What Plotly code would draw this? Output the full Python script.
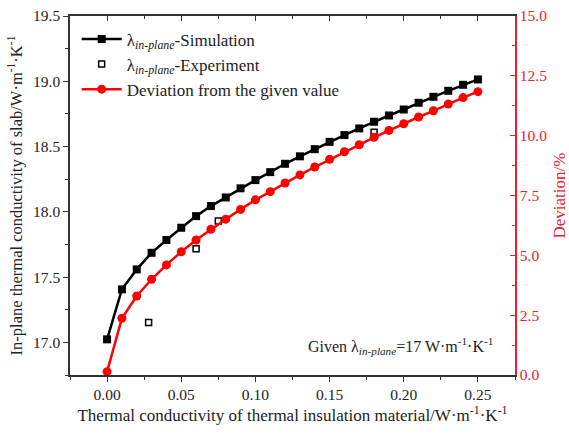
import plotly.graph_objects as go

# ---- data ----
x_values = [0.00, 0.01, 0.02, 0.03, 0.04, 0.05, 0.06, 0.07, 0.08, 0.09,
            0.10, 0.11, 0.12, 0.13, 0.14, 0.15, 0.16, 0.17, 0.18, 0.19,
            0.20, 0.21, 0.22, 0.23, 0.24, 0.25]
sim_values = [17.023, 17.406, 17.559, 17.686, 17.784, 17.878, 17.967, 18.044, 18.110, 18.180,
              18.243, 18.304, 18.368, 18.425, 18.480, 18.536, 18.588, 18.639, 18.690, 18.738,
              18.784, 18.835, 18.881, 18.927, 18.973, 19.014]
dev_values = [0.14, 2.37, 3.30, 4.00, 4.60, 5.15, 5.64, 6.09, 6.51, 6.92,
              7.32, 7.66, 8.02, 8.36, 8.69, 9.01, 9.33, 9.62, 9.93, 10.22,
              10.50, 10.78, 11.04, 11.32, 11.59, 11.84]
exp_x = [0.028, 0.060, 0.075, 0.180]
exp_y = [17.152, 17.717, 17.930, 18.609]

x_ticks = [0.00, 0.05, 0.10, 0.15, 0.20, 0.25]
y_ticks = [17.0, 17.5, 18.0, 18.5, 19.0, 19.5]
y2_ticks = [0.0, 2.5, 5.0, 7.5, 10.0, 12.5, 15.0]

FONT = "Liberation Serif"
RED = "#ff0000"
AXRED = "#e8202e"
AXCOL = "#333333"
TXT = "#222222"
SUB = "λ<sub><i>in-plane</i></sub>"

fig = go.Figure()
fig.add_trace(go.Scatter(
    x=x_values, y=sim_values, mode="lines+markers",
    name=SUB + "-Simulation",
    line=dict(color="black", width=2.5),
    marker=dict(symbol="square", size=8, color="black"),
))
fig.add_trace(go.Scatter(
    x=exp_x, y=exp_y, mode="markers",
    name=SUB + "-Experiment",
    marker=dict(symbol="square-open", size=6, color="black", line=dict(width=1.5, color="black")),
))
fig.add_trace(go.Scatter(
    x=x_values, y=dev_values, mode="lines+markers", yaxis="y2",
    name="Deviation from the given value",
    line=dict(color=RED, width=2.5),
    marker=dict(symbol="circle", size=9, color=RED),
))
# invisible trace to hold the top mirror axis
fig.add_trace(go.Scatter(x=[x_values[0]], y=[sim_values[0]], xaxis="x2", mode="markers",
                         marker=dict(opacity=0), showlegend=False, hoverinfo="skip"))

fig.update_layout(
    width=569, height=435,
    margin=dict(l=70, r=54, t=16, b=60, autoexpand=False),
    paper_bgcolor="white", plot_bgcolor="white",
    font=dict(family=FONT, size=15, color=TXT),
    showlegend=True,
    legend=dict(x=0.015, y=0.985, xanchor="left", yanchor="top",
                bgcolor="rgba(0,0,0,0)", font=dict(family=FONT, size=17, color=TXT),
                tracegroupgap=0, itemwidth=40),
    xaxis=dict(
        range=[-0.025, 0.275], tickvals=x_ticks, ticktext=[f"{v:.2f}" for v in x_ticks],
        automargin=False,
        showgrid=False, zeroline=False, showline=True, linecolor=AXCOL, linewidth=1.5,
        ticks="outside", ticklen=5, tickwidth=1.2, tickcolor=AXCOL,
        minor=dict(dtick=0.025, tick0=0, ticks="outside", ticklen=3, tickcolor=AXCOL),
        tickfont=dict(family=FONT, size=15.5, color=TXT),
        title=dict(text="Thermal conductivity of thermal insulation material/W·m<sup>-1</sup>·K<sup>-1</sup>",
                   font=dict(family=FONT, size=17, color=TXT), standoff=6),
    ),
    xaxis2=dict(
        range=[-0.025, 0.275], overlaying="x", side="top", anchor="y",
        tickvals=x_ticks, showticklabels=False, automargin=False,
        showgrid=False, zeroline=False, showline=True, linecolor=AXCOL, linewidth=1.5,
        ticks="inside", ticklen=5, tickwidth=1.2, tickcolor=AXCOL,
        minor=dict(dtick=0.025, tick0=0, ticks="inside", ticklen=3, tickcolor=AXCOL),
    ),
    yaxis=dict(
        range=[16.75, 19.5], tickvals=y_ticks, ticktext=[f"{v:.1f}" for v in y_ticks],
        automargin=False,
        showgrid=False, zeroline=False, showline=True, linecolor=AXCOL, linewidth=1.5,
        ticks="outside", ticklen=5, tickwidth=1.2, tickcolor=AXCOL,
        minor=dict(dtick=0.25, tick0=16.75, ticks="outside", ticklen=3, tickcolor=AXCOL),
        tickfont=dict(family=FONT, size=15.5, color=TXT),
        title=dict(text="In-plane thermal conductivity of slab/W·m<sup>-1</sup>·K<sup>-1</sup>",
                   font=dict(family=FONT, size=16.5, color=TXT), standoff=6),
    ),
    yaxis2=dict(
        range=[0, 15], overlaying="y", side="right", anchor="x",
        tickvals=y2_ticks, ticktext=[f"{v:.1f}" for v in y2_ticks],
        automargin=False,
        showgrid=False, zeroline=False, showline=True, linecolor=AXRED, linewidth=1.5,
        ticks="inside", ticklen=5, tickwidth=1.2, tickcolor=AXRED,
        minor=dict(dtick=1.25, tick0=0, ticks="inside", ticklen=3, tickcolor=AXRED),
        tickfont=dict(family=FONT, size=15.5, color=AXRED),
        title=dict(text="Deviation/%", font=dict(family=FONT, size=17, color=AXRED), standoff=12),
    ),
    annotations=[dict(
        xref="paper", yref="paper", x=0.955, y=0.08, xanchor="right", yanchor="middle",
        text="Given " + SUB + "=17 W·m<sup>-1</sup>·K<sup>-1</sup>", showarrow=False,
        font=dict(family=FONT, size=16, color=TXT),
    )],
)

fig.write_html("out.html")
